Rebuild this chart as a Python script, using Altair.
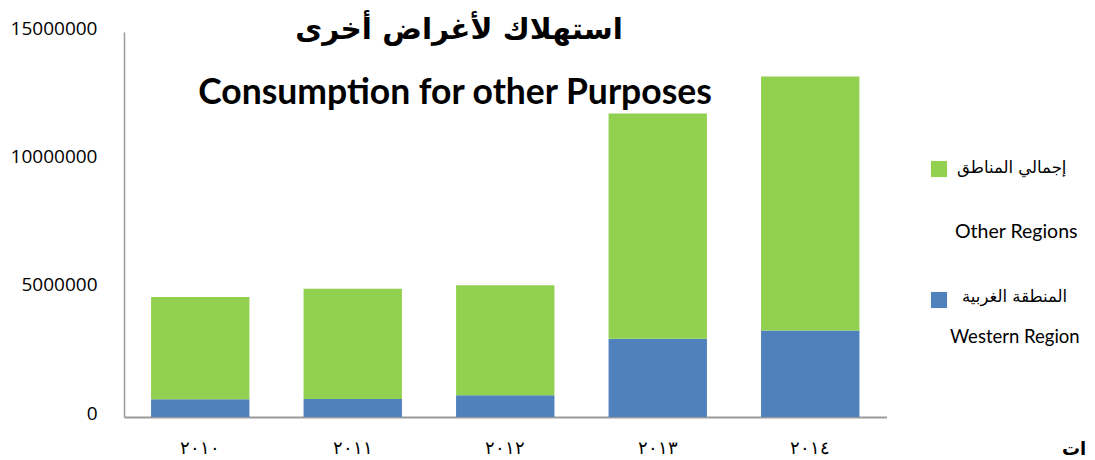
import altair as alt
import pandas as pd

# ---- data ----
years = ["٢٠١٠", "٢٠١١", "٢٠١٢", "٢٠١٣", "٢٠١٤"]
western_region = [690000, 700000, 845000, 3050000, 3370000]
other_regions = [3985000, 4300000, 4285000, 8770000, 9900000]

series_keys = ["Western Region", "Other Regions"]
series_colors = ["#4F81BD", "#92D050"]
legend_ar = ["المنطقة الغربية", "إجمالي المناطق"]
legend_en = ["Western Region", "Other Regions"]

y_ticks = [0, 5000000, 10000000, 15000000]
title_ar = "استهلاك لأغراض أخرى"
title_en = "Consumption for other Purposes"
corner_fragment = "ات"

rows = []
for i, yr in enumerate(years):
    rows.append({"year": yr, "series": series_keys[0], "value": western_region[i], "ord": 0})
    rows.append({"year": yr, "series": series_keys[1], "value": other_regions[i], "ord": 1})
df = pd.DataFrame(rows)

W = 762.5
H = 385

bars = alt.Chart(df).mark_bar().encode(
    x=alt.X(
        "year:N", sort=years,
        scale=alt.Scale(paddingInner=0.355, paddingOuter=0.1775),
        axis=alt.Axis(title=None, labelAngle=0, ticks=False, domainColor="#9a9a9a",
                      domainWidth=2, labelFont="DejaVu Serif", labelFontSize=18,
                      labelPadding=22, labelColor="#000000"),
    ),
    y=alt.Y(
        "value:Q", stack="zero",
        scale=alt.Scale(domain=[0, 15000000], nice=False),
        axis=alt.Axis(values=y_ticks, format="d", title=None, grid=False, ticks=False,
                      labelPadding=27, labelOffset=-4, labelFont="Open Sans",
                      labelFontSize=19, labelColor="#000000", domainColor="#9a9a9a",
                      domainWidth=1.5),
    ),
    color=alt.Color("series:N", scale=alt.Scale(domain=series_keys, range=series_colors), legend=None),
    order=alt.Order("ord:Q"),
)

def txt(s, x, y, size, font, bold=False, align="center"):
    return alt.Chart(pd.DataFrame({"t": [s]})).mark_text(
        font=font, fontSize=size, fontWeight="bold" if bold else "normal",
        align=align, baseline="middle", color="#000000",
    ).encode(text="t:N", x=alt.value(x), y=alt.value(y))

def square(color, x, y):
    return alt.Chart(pd.DataFrame({"c": [color]})).mark_square(
        size=260, filled=True, color=color, opacity=1
    ).encode(x=alt.value(x), y=alt.value(y))

layers = [bars,
          txt(title_ar, 335, -2, 29.5, "DejaVu Sans", bold=True),
          txt(title_en, 331, 61, 35.5, "Lato", bold=True),
          square(series_colors[1], 815, 137),
          square(series_colors[0], 815, 268),
          txt(legend_ar[1], 833, 136, 16.5, "DejaVu Sans", align="left"),
          txt(legend_en[1], 831, 200, 19.5, "Lato", align="left"),
          txt(legend_ar[0], 838, 265, 16.5, "DejaVu Sans", align="left"),
          txt(legend_en[0], 826, 305, 18.5, "Lato", align="left"),
          txt(corner_fragment, 950, 418, 18, "DejaVu Sans", bold=True),
          ]

chart = alt.layer(*layers).properties(
    width=W, height=H,
    autosize=alt.AutoSizeParams(type="none"),
    padding={"left": 116, "top": 24, "right": 200, "bottom": 46},
).configure_view(stroke=None)

chart.save("out.html", embed_options={"renderer": "svg", "actions": False})
